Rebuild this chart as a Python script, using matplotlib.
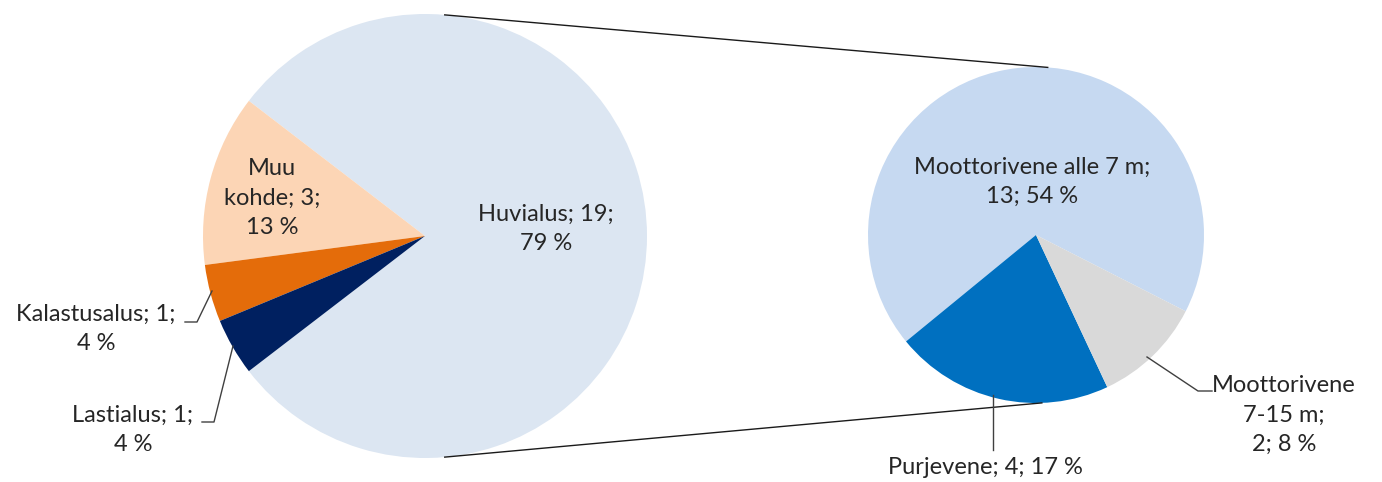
import numpy as np
import matplotlib.pyplot as plt

plt.rcParams['font.family'] = ['Lato', 'DejaVu Sans']

# ---------------- data ----------------
main_labels = ['Huvialus', 'Muu\nkohde', 'Kalastusalus', 'Lastialus']
main_values = [19, 3, 1, 1]
main_colors = ['#DCE6F2', '#FCD5B5', '#E46C0A', '#002060']

sub_labels = ['Moottorivene alle 7 m', 'Purjevene', 'Moottorivene\n7-15 m']
sub_values = [13, 4, 2]
sub_colors = ['#C6D9F1', '#0070C0', '#D9D9D9']

total = sum(main_values)


def pct(v):
    # excel style rounding (half up)
    return int(v / total * 100 + 0.5)


# ---------------- layout (pixel space, y up) ----------------
W, H = 1382, 482
c1, r1 = (425, H - 236), 222
c2, r2 = (1036, H - 235), 168
txt = '#262626'

fig = plt.figure(figsize=(W / 100, H / 100), dpi=100)
ax = fig.add_axes([0, 0, 1, 1])

# main pie: Huvialus centred on the right side
start1 = -main_values[0] / total * 360 / 2
ax.pie(main_values, colors=main_colors, startangle=start1, counterclock=True,
       center=c1, radius=r1, wedgeprops=dict(linewidth=0))

# secondary pie
ax.pie(sub_values, colors=sub_colors, startangle=-27, counterclock=True,
       center=c2, radius=r2, wedgeprops=dict(linewidth=0))

ax.set_xlim(0, W)
ax.set_ylim(0, H)
ax.set_aspect('equal')
ax.axis('off')


def on_circle(c, r, deg):
    a = np.radians(deg)
    return c[0] + r * np.cos(a), c[1] + r * np.sin(a)


# connector lines between pies
for a1, a2 in [(84.9, 86), (-84.9, -88)]:
    p, q = on_circle(c1, r1, a1), on_circle(c2, r2, a2)
    ax.plot([p[0], q[0]], [p[1], q[1]], color='#1a1a1a', lw=1.0)

fs = 17
ls = 1.5
# main pie labels
ax.text(546, H - 229, f'{main_labels[0]}; {main_values[0]};\n{pct(main_values[0])} %',
        ha='center', va='center', fontsize=fs, color=txt, linespacing=ls)
ax.text(272, H - 198, f'{main_labels[1]}; {main_values[1]};\n{pct(main_values[1])} %',
        ha='center', va='center', fontsize=fs, color=txt, linespacing=ls)
ax.text(96, H - 329, f'{main_labels[2]}; {main_values[2]};\n{pct(main_values[2])} %',
        ha='center', va='center', fontsize=fs, color=txt, linespacing=ls)
ax.text(133, H - 430, f'{main_labels[3]}; {main_values[3]};\n{pct(main_values[3])} %',
        ha='center', va='center', fontsize=fs, color=txt, linespacing=ls)

# sub pie labels
ax.text(1032, H - 182, f'{sub_labels[0]};\n{sub_values[0]}; {pct(sub_values[0])} %',
        ha='center', va='center', fontsize=fs, color=txt, linespacing=ls)
ax.text(985, H - 467, f'{sub_labels[1]}; {sub_values[1]}; {pct(sub_values[1])} %',
        ha='center', va='center', fontsize=fs, color=txt)
ax.text(1284, H - 415, f'{sub_labels[2]};\n{sub_values[2]}; {pct(sub_values[2])} %',
        ha='center', va='center', fontsize=fs, color=txt, linespacing=ls)

# leader lines
lc = '#404040'
ax.plot([185, 197, 212], [H - 322, H - 322, H - 291], color=lc, lw=1)
ax.plot([202, 214, 233], [H - 422, H - 422, H - 346], color=lc, lw=1)
ax.plot([993, 993], [H - 395, H - 450], color=lc, lw=1)
ax.plot([1147, 1198, 1212], [H - 357, H - 391, H - 391], color=lc, lw=1)

fig.savefig('out.png', dpi=100, facecolor='white')
